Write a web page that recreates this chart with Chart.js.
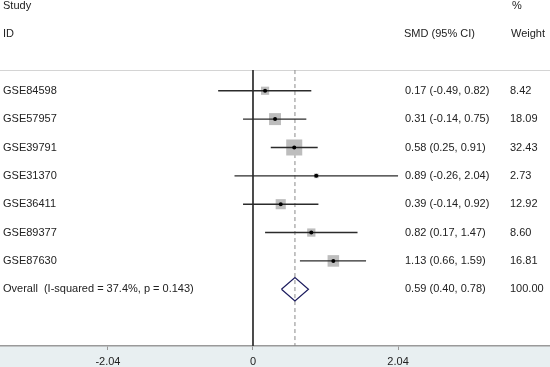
<!DOCTYPE html>
<html>
<head>
<meta charset="utf-8">
<script src="https://cdn.jsdelivr.net/npm/chart.js@4.4.1/dist/chart.umd.min.js"></script>
<style>
  html, body { margin: 0; padding: 0; background: #fff; }
  #wrap { width: 550px; height: 367px; }
</style>
</head>
<body>
<div id="wrap"><canvas id="forest" width="550" height="367"></canvas></div>
<script>
const studies = ['GSE84598', 'GSE57957', 'GSE39791', 'GSE31370', 'GSE36411', 'GSE89377', 'GSE87630'];
const smd = [0.17, 0.31, 0.58, 0.89, 0.39, 0.82, 1.13];
const lower = [-0.49, -0.14, 0.25, -0.26, -0.14, 0.17, 0.66];
const upper = [0.82, 0.75, 0.91, 2.04, 0.92, 1.47, 1.59];
const weights = [8.42, 18.09, 32.43, 2.73, 12.92, 8.60, 16.81];
const overallLabel = 'Overall  (I-squared = 37.4%, p = 0.143)';
const overallSmd = 0.59;
const overallLower = 0.40;
const overallUpper = 0.78;
const overallWeight = 100.00;
const xTicks = [-2.04, 0, 2.04];

const overallRow = studies.length;
const fmt = v => v.toFixed(2);
const textColor = '#222222';
const font = '11px "Liberation Sans", Arial, sans-serif';

// CI lines, one dataset per study
const ciSets = studies.map((s, i) => ({
  data: [{x: lower[i], y: i}, {x: upper[i], y: i}],
  showLine: true,
  borderColor: '#2b2b2b',
  borderWidth: 1.4,
  pointRadius: 0,
  order: 1
}));

const boxSet = {
  data: studies.map((s, i) => ({x: smd[i], y: i})),
  pointStyle: 'rect',
  pointRadius: weights.map(w => 1.99 * Math.sqrt(w)),
  backgroundColor: '#bdbdbd',
  borderWidth: 0,
  order: 2
};

const dotSet = {
  data: studies.map((s, i) => ({x: smd[i], y: i})),
  pointStyle: 'circle',
  pointRadius: 2,
  backgroundColor: '#000000',
  borderWidth: 0,
  order: 0
};

const dh = 0.41;
const diamondSet = {
  data: [
    {x: overallLower, y: overallRow},
    {x: overallSmd, y: overallRow - dh},
    {x: overallUpper, y: overallRow},
    {x: overallSmd, y: overallRow + dh},
    {x: overallLower, y: overallRow}
  ],
  showLine: true,
  borderColor: '#1c1c5e',
  borderWidth: 1.2,
  pointRadius: 0,
  order: 0
};

const topRule = -0.73;
const zeroLine = {
  data: [{x: 0, y: topRule}, {x: 0, y: 9.1}],
  showLine: true,
  borderColor: '#333333',
  borderWidth: 1,
  pointRadius: 0,
  order: 3
};
const overallLine = {
  data: [{x: overallSmd, y: topRule}, {x: overallSmd, y: 9.1}],
  showLine: true,
  borderColor: '#8a8a8a',
  borderWidth: 1,
  borderDash: [4, 3],
  pointRadius: 0,
  order: 3
};

const decor = {
  id: 'decor',
  beforeDraw(chart) {
    const ctx = chart.ctx;
    const area = chart.chartArea;
    ctx.save();
    ctx.fillStyle = '#e8eff1';
    ctx.fillRect(0, area.bottom, chart.width, chart.height - area.bottom);
    const yTop = chart.scales.y.getPixelForValue(topRule);
    ctx.strokeStyle = '#d4d4d4';
    ctx.lineWidth = 1;
    ctx.beginPath();
    ctx.moveTo(0, Math.round(yTop) + 0.5);
    ctx.lineTo(chart.width, Math.round(yTop) + 0.5);
    ctx.stroke();
    ctx.restore();
  },
  afterDraw(chart) {
    const ctx = chart.ctx;
    const y = chart.scales.y;
    ctx.save();
    ctx.font = font;
    ctx.fillStyle = textColor;
    ctx.textBaseline = 'middle';
    ctx.textAlign = 'left';
    ctx.fillText('Study', 3, y.getPixelForValue(-3));
    ctx.fillText('ID', 3, y.getPixelForValue(-2));
    ctx.fillText('SMD (95% CI)', 404, y.getPixelForValue(-2));
    ctx.fillText('%', 512, y.getPixelForValue(-3));
    ctx.fillText('Weight', 511, y.getPixelForValue(-2));
    studies.forEach((s, i) => {
      const py = y.getPixelForValue(i);
      ctx.fillText(s, 3, py);
      ctx.fillText(`${fmt(smd[i])} (${fmt(lower[i])}, ${fmt(upper[i])})`, 405, py);
      ctx.fillText(fmt(weights[i]), 510, py);
    });
    const po = y.getPixelForValue(overallRow);
    ctx.fillText(overallLabel, 3, po);
    ctx.fillText(`${fmt(overallSmd)} (${fmt(overallLower)}, ${fmt(overallUpper)})`, 405, po);
    ctx.fillText(fmt(overallWeight), 510, po);
    ctx.restore();
  }
};

new Chart(document.getElementById('forest'), {
  type: 'scatter',
  data: {
    datasets: [dotSet, diamondSet, ...ciSets, boxSet, zeroLine, overallLine]
  },
  options: {
    responsive: false,
    animation: false,
    layout: { padding: 0, autoPadding: false },
    plugins: { legend: { display: false }, tooltip: { enabled: false } },
    scales: {
      x: {
        type: 'linear',
        min: -3.558,
        max: 4.177,
        afterBuildTicks: scale => { scale.ticks = xTicks.map(v => ({value: v})); },
        afterFit: scale => { scale.height = 21; },
        ticks: {
          color: textColor,
          font: { family: '"Liberation Sans", Arial, sans-serif', size: 11 },
          padding: 5,
          maxRotation: 0,
          autoSkip: false,
          callback: v => String(v)
        },
        grid: { drawOnChartArea: false, drawTicks: true, tickLength: 4, color: '#999999' },
        border: { display: true, color: '#9a9a9a', width: 1.5 }
      },
      y: {
        type: 'linear',
        display: false,
        reverse: true,
        min: -3.2,
        max: 9.0
      }
    }
  },
  plugins: [decor]
});
</script>
</body>
</html>
